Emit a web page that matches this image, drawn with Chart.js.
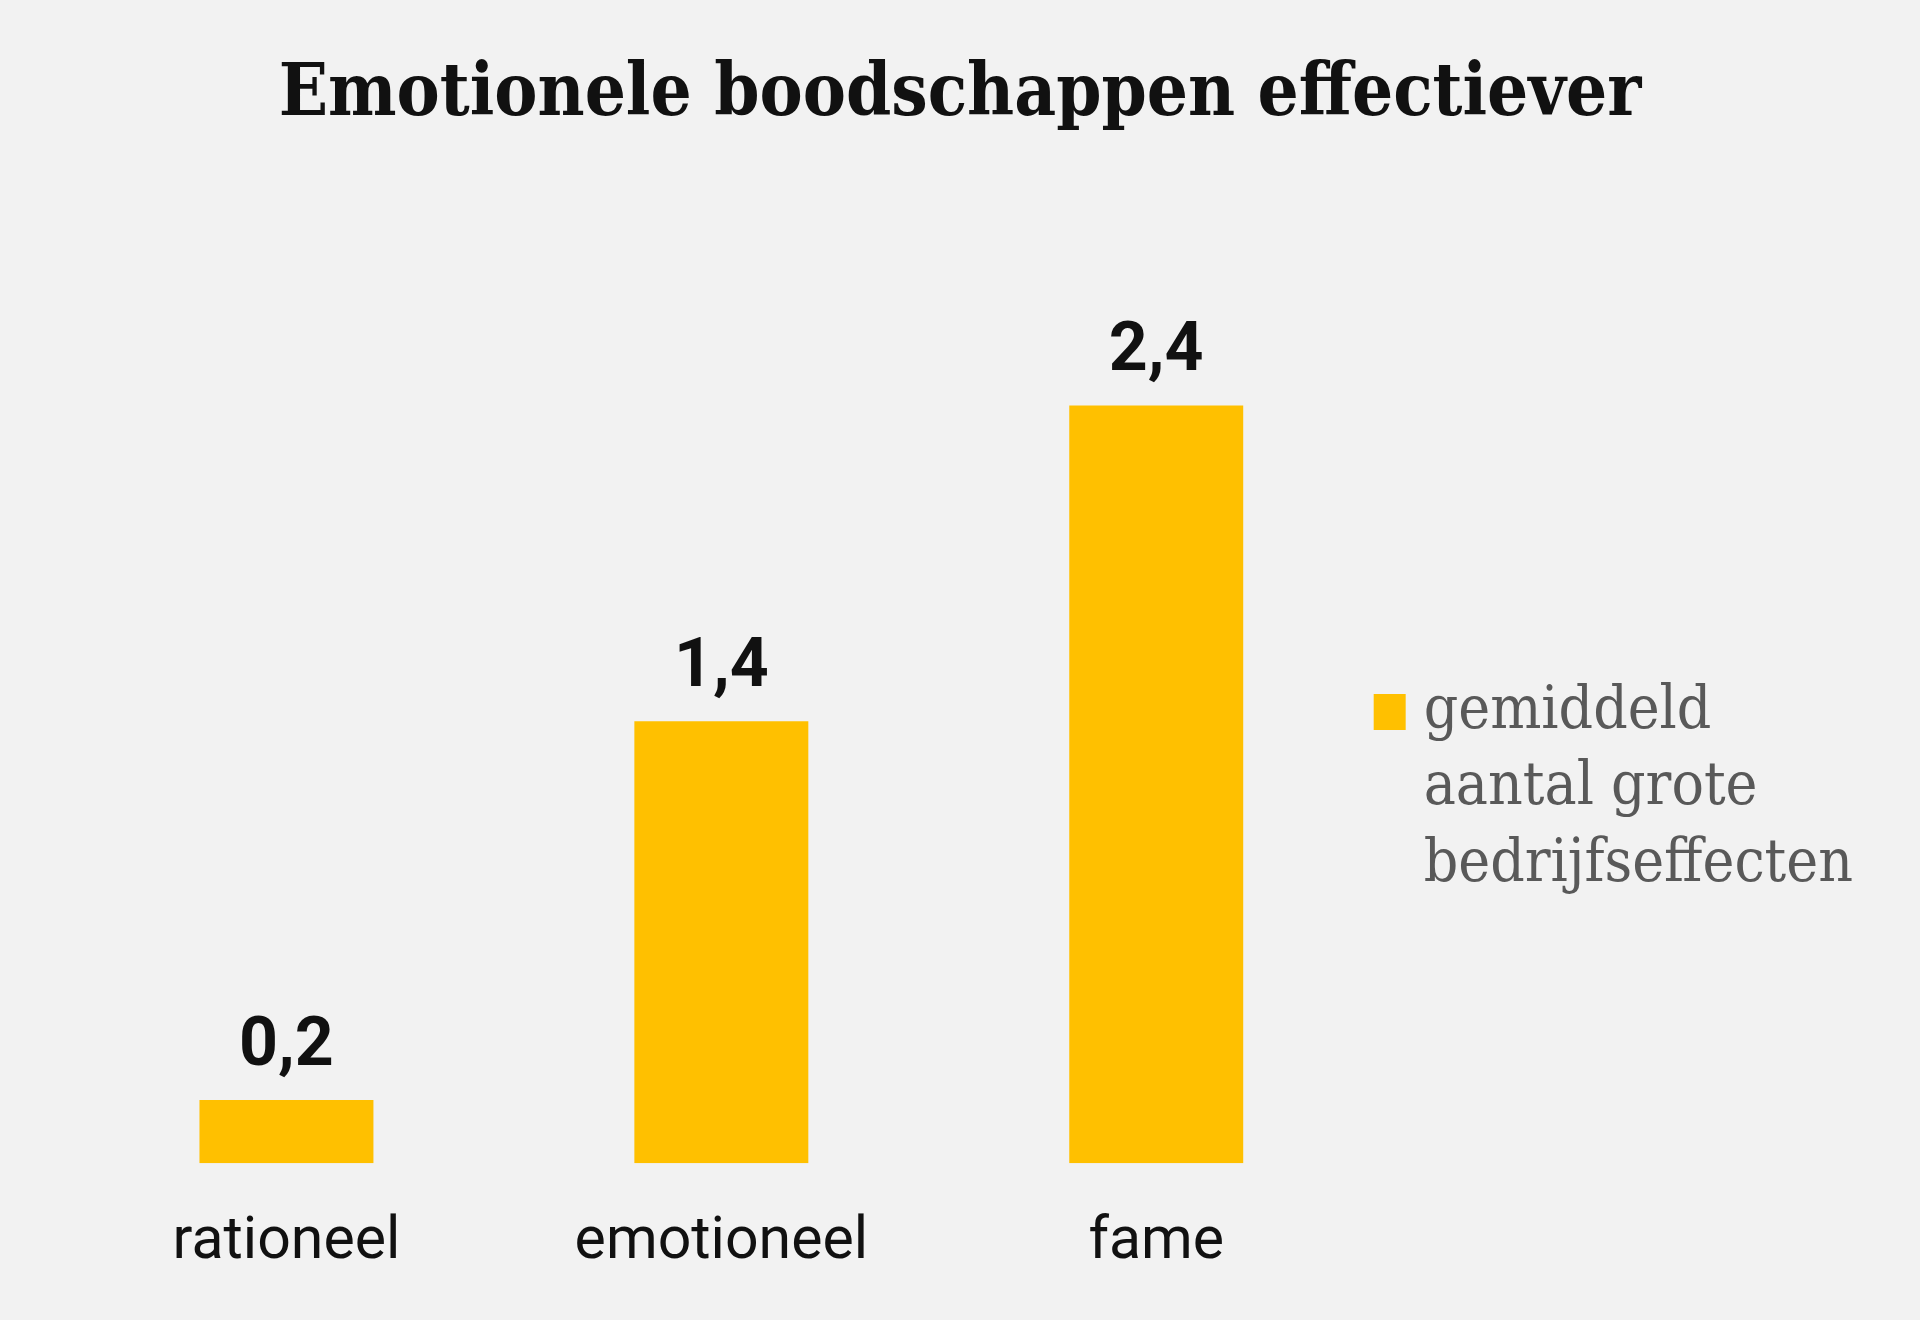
<!DOCTYPE html>
<html><head><meta charset="utf-8">
<script src="https://cdn.jsdelivr.net/npm/chart.js@4.4.1/dist/chart.umd.min.js"></script>
<style>
html,body{margin:0;padding:0;background:#f2f2f2;}
#wrap{width:1920px;height:1320px;}
canvas{display:block;}
</style></head><body>
<div id="wrap"><canvas id="c" width="1920" height="1320"></canvas></div>
<script>
const categories = ['rationeel', 'emotioneel', 'fame'];
const values = [0.2, 1.4, 2.4];
const seriesName = ['gemiddeld', 'aantal grote', 'bedrijfseffecten'];
const chartTitle = 'Emotionele boodschappen effectiever';
const yMax = 3;
const barColor = '#FFC000';

function fmt(v){ return v.toLocaleString('nl-NL', {minimumFractionDigits:1, maximumFractionDigits:1}); }

const valueLabelPlugin = {
  id: 'valueLabels',
  afterDatasetsDraw(chart){
    const ctx = chart.ctx;
    const meta = chart.getDatasetMeta(0);
    ctx.save();
    ctx.font = 'bold 68px Roboto';
    ctx.fillStyle = '#111111';
    ctx.textAlign = 'center';
    ctx.textBaseline = 'alphabetic';
    meta.data.forEach((bar, i) => {
      ctx.fillText(fmt(values[i]), bar.x, bar.y - 35);
    });
    ctx.restore();
  }
};

// centre the title over the whole canvas rather than the padded box
const centerTitlePlugin = {
  id: 'centerTitle',
  afterLayout(chart){
    const t = chart.titleBlock;
    if (!t) return;
    const shift = chart.width / 2 - (t.left + t.right) / 2;
    t.left += shift;
    t.right += shift;
  }
};

Chart.defaults.font.family = 'Roboto';

new Chart(document.getElementById('c'), {
  type: 'bar',
  data: {
    labels: categories,
    datasets: [{
      label: seriesName.join(' '),
      data: values,
      backgroundColor: barColor,
      borderWidth: 0,
      barPercentage: 0.4,
      categoryPercentage: 1.0
    }]
  },
  plugins: [valueLabelPlugin, centerTitlePlugin],
  options: {
    responsive: false,
    animation: false,
    devicePixelRatio: 1,
    layout: { padding: { left: 69, right: 57, top: 30, bottom: 4 } },
    plugins: {
      title: {
        display: true,
        text: chartTitle,
        color: '#111111',
        font: { family: "'DejaVu Serif Condensed', 'DejaVu Serif'", weight: 'bold', size: 72, lineHeight: 1.2 },
        padding: { top: 23, bottom: 76.6 }
      },
      legend: {
        position: 'right',
        align: 'start',
        title: { display: true, text: '', font: { size: 10, lineHeight: 1 }, padding: { top: 634, bottom: 0 } },
        labels: {
          boxWidth: 12,
          boxHeight: 12,
          padding: 8,
          color: '#595959',
          font: { family: "'DejaVu Serif Condensed', 'DejaVu Serif'", size: 60, lineHeight: 1.275 },
          generateLabels(chart){
            return [{ text: seriesName, fillStyle: barColor, strokeStyle: barColor, lineWidth: 24, lineJoin: 'miter', hidden: false, datasetIndex: 0, fontColor: '#595959' }];
          }
        }
      },
      tooltip: { enabled: false }
    },
    scales: {
      x: {
        grid: { display: false },
        border: { display: false },
        ticks: { color: '#111111', font: { size: 59 }, padding: 37 }
      },
      y: { display: false, min: 0, max: yMax }
    }
  }
});
</script>
</body></html>
